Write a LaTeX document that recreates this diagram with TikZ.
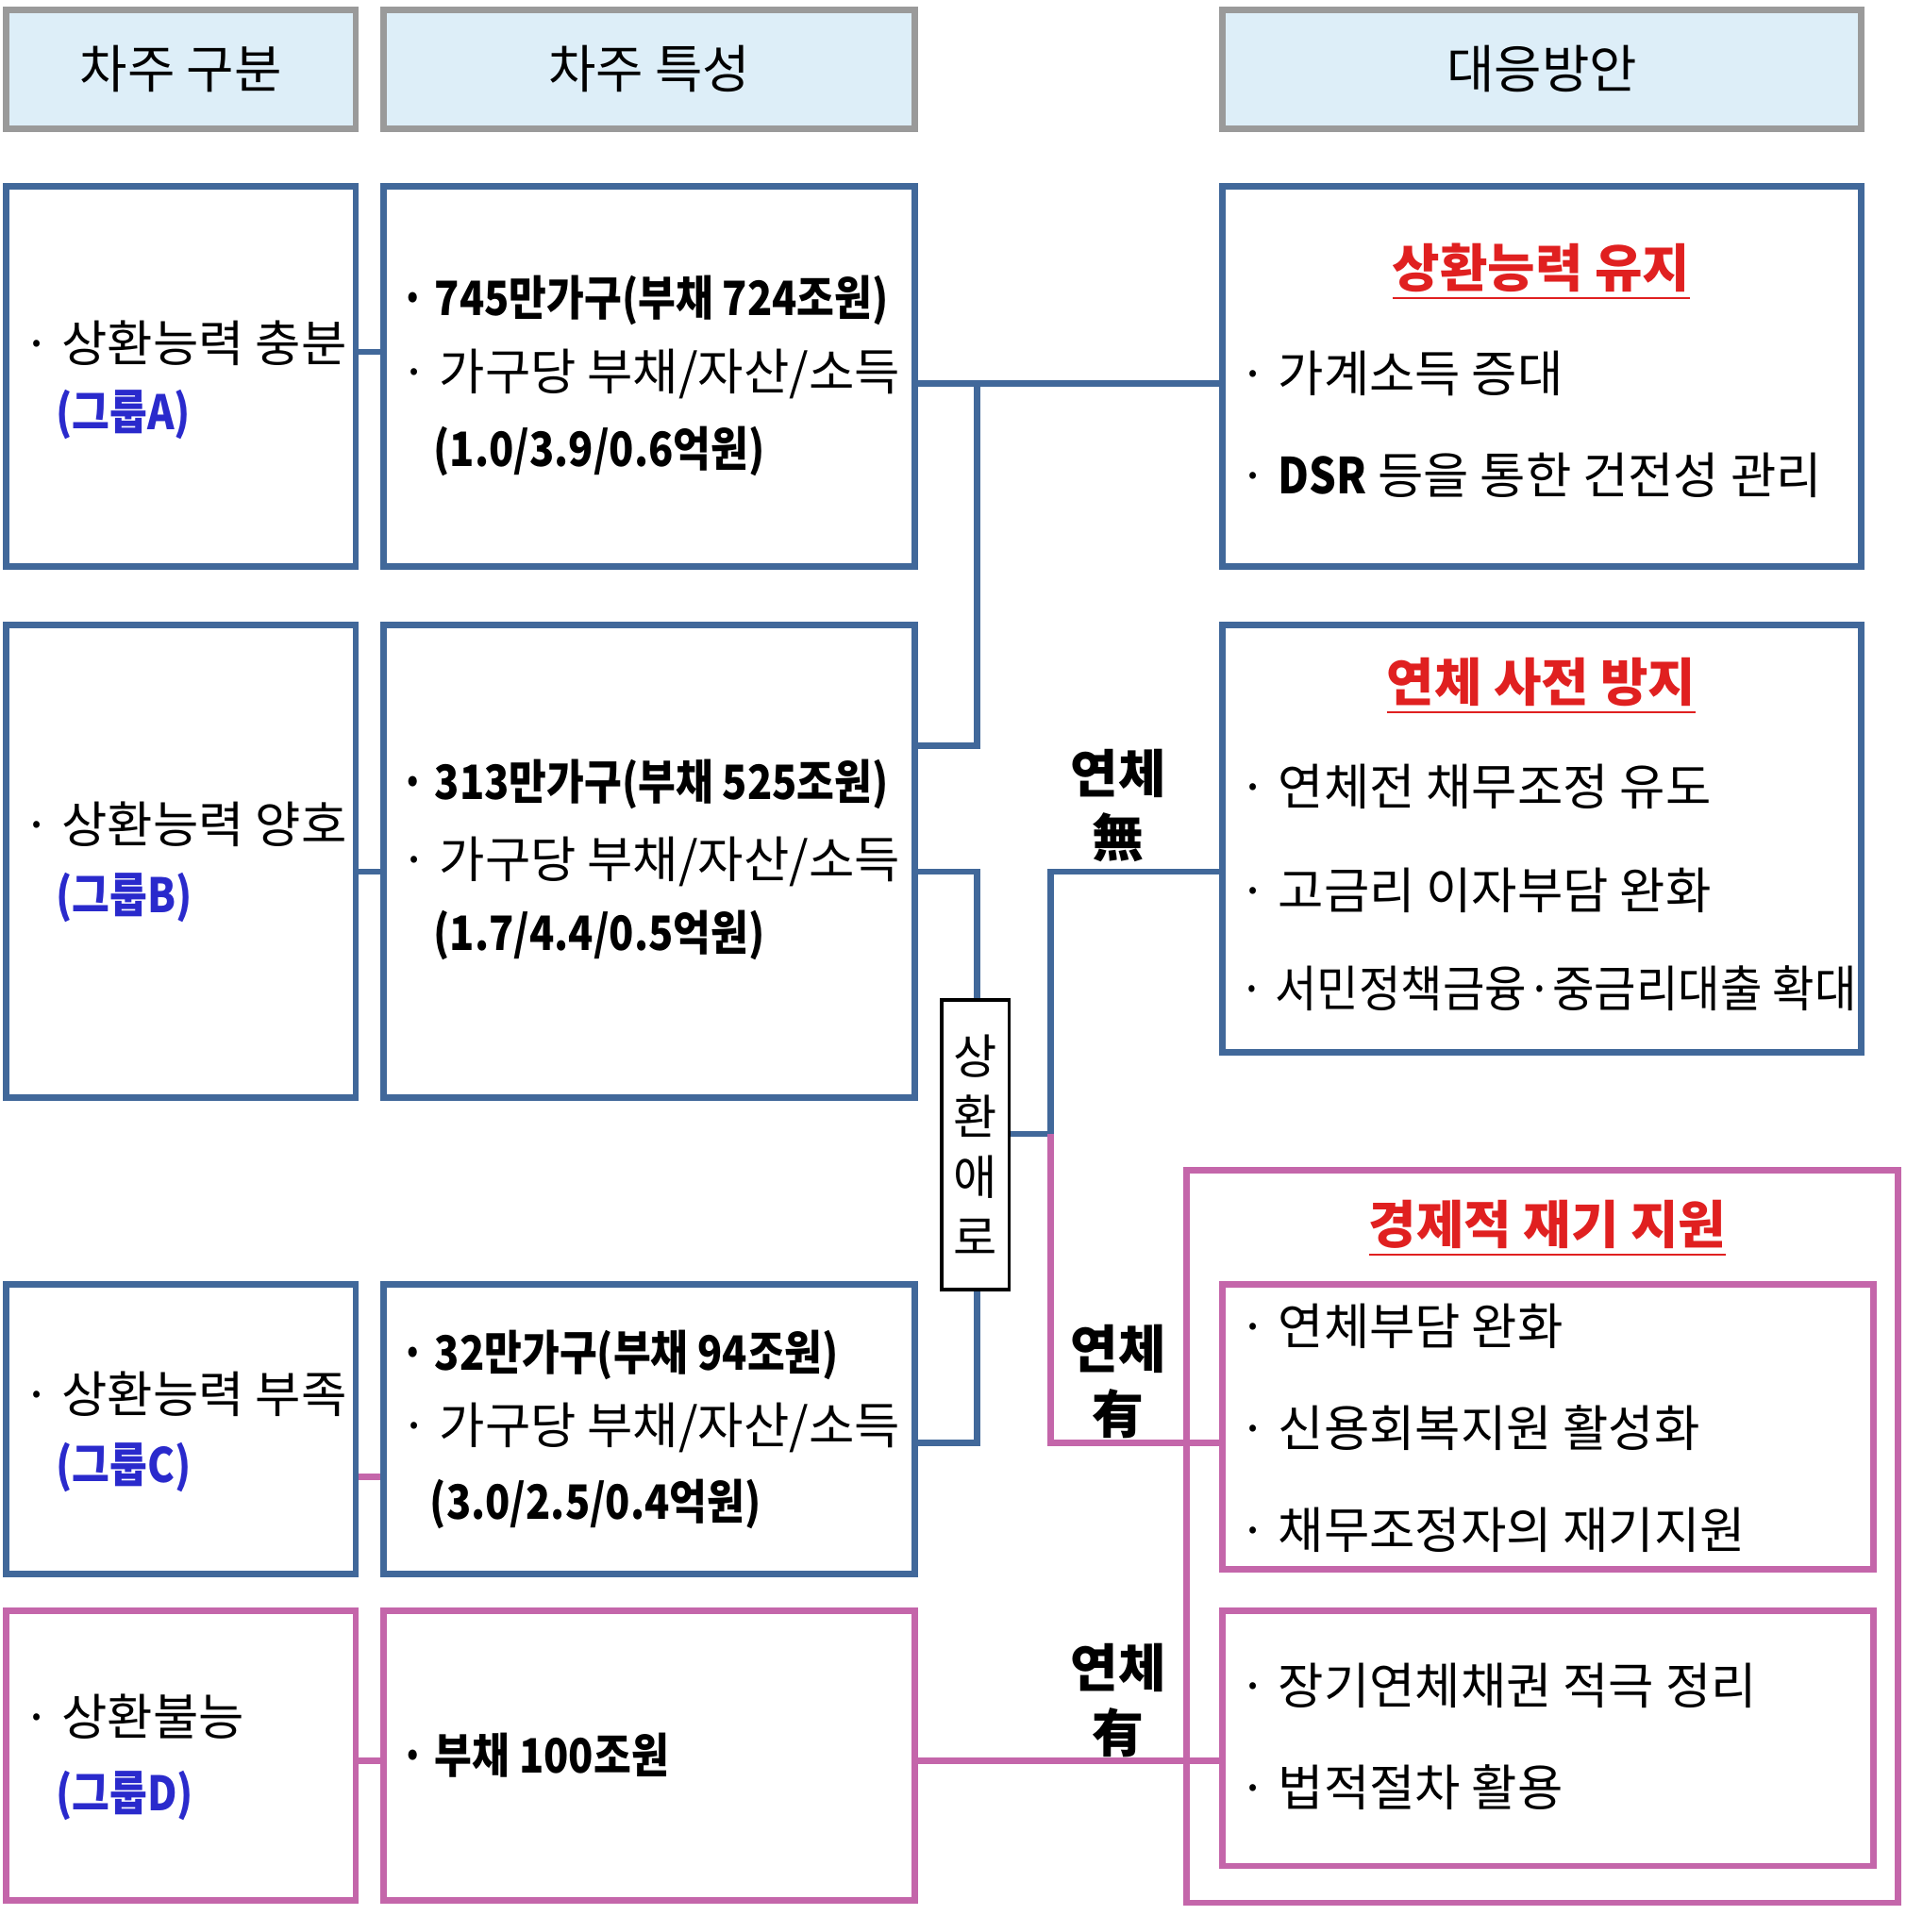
\documentclass[tikz,border=0pt]{standalone}
\usepackage{fontspec}
\setmainfont{Noto Sans CJK KR}
\newfontfamily\condfont[FakeStretch=0.86]{Noto Sans CJK KR}
\newfontfamily\narrowfont[FakeStretch=0.92]{Noto Sans CJK KR}
\usetikzlibrary{calc}
\definecolor{hdrfill}{HTML}{DDEEF8}
\definecolor{hdrline}{HTML}{9A9A9A}
\definecolor{blueline}{HTML}{41689A}
\definecolor{pinkline}{HTML}{C466AA}
\definecolor{grpblue}{HTML}{2A2ACC}
\definecolor{ttlred}{HTML}{E02020}
\tikzset{
  hdr/.style={draw=hdrline,fill=hdrfill,line width=1.5pt,font=\fontsize{12}{14}\selectfont},
  bbox/.style={draw=blueline,line width=1.5pt},
  pbox/.style={draw=pinkline,line width=1.5pt},
  txt/.style={anchor=west,inner sep=0pt,font=\fontsize{11.5}{13}\selectfont},
  btxt/.style={txt,font=\condfont\bfseries\fontsize{11}{13}\selectfont},
  ntxt/.style={txt,font=\narrowfont\fontsize{11.5}{13}\selectfont},
  grp/.style={txt,text=grpblue,font=\condfont\bfseries\fontsize{11}{13}\selectfont},
  ttl/.style={inner sep=0pt,text=ttlred,font=\bfseries\fontsize{12}{14}\selectfont},
  bwire/.style={draw=blueline,line width=1.5pt},
  pwire/.style={draw=pinkline,line width=1.5pt},
  lbl/.style={align=center,inner sep=0pt,font=\bfseries\fontsize{12}{15}\selectfont}
}
\newcommand{\ul}[1]{\underline{#1}}
\begin{document}
\begin{tikzpicture}[x=0.01cm,y=-0.01cm]
\useasboundingbox (0,0) rectangle (1568,1576);
% headers
\node[hdr,minimum width=2.85cm,minimum height=0.97cm] (h1) at (147.5,56.5) {차주 구분};
\node[hdr,minimum width=4.33cm,minimum height=0.97cm] (h2) at (529.5,56.5) {차주 특성};
\node[hdr,minimum width=5.21cm,minimum height=0.97cm] (h3) at (1257.5,56.5) {대응방안};
% boxes
\node[bbox,minimum width=2.85cm,minimum height=3.10cm] (a1) at (147.5,307) {};
\node[bbox,minimum width=4.33cm,minimum height=3.10cm] (a2) at (529.5,307) {};
\node[bbox,minimum width=5.21cm,minimum height=3.10cm] (a3) at (1257.5,307) {};
\node[bbox,minimum width=2.85cm,minimum height=3.85cm] (b1) at (147.5,702.5) {};
\node[bbox,minimum width=4.33cm,minimum height=3.85cm] (b2) at (529.5,702.5) {};
\node[bbox,minimum width=5.21cm,minimum height=3.48cm] (b3) at (1257.5,684) {};
\node[bbox,minimum width=2.85cm,minimum height=2.36cm] (c1) at (147.5,1166) {};
\node[bbox,minimum width=4.33cm,minimum height=2.36cm] (c2) at (529.5,1166) {};
\node[pbox,minimum width=2.85cm,minimum height=2.36cm] (d1) at (147.5,1432) {};
\node[pbox,minimum width=4.33cm,minimum height=2.36cm] (d2) at (529.5,1432) {};
\node[pbox,minimum width=5.80cm,minimum height=5.97cm] (p0) at (1258,1253.5) {};
\node[pbox,minimum width=5.31cm,minimum height=2.32cm] (p1) at (1262.5,1164) {};
\node[pbox,minimum width=5.31cm,minimum height=2.08cm] (p2) at (1262.5,1418) {};
\node[draw,line width=0.8pt,fill=white,minimum width=0.55cm,minimum height=2.36cm,align=center,inner sep=0pt,font=\fontsize{11}{14}\selectfont] (hard) at (795.5,934) {상\\환\\애\\로};
% texts: group column
\node[txt] at (18,280) {· 상환능력 충분};
\node[grp] at (45,338) {(그룹A)};
\node[txt] at (18,672) {· 상환능력 양호};
\node[grp] at (45,732) {(그룹B)};
\node[txt] at (18,1137) {· 상환능력 부족};
\node[grp] at (45,1197) {(그룹C)};
\node[txt] at (18,1400) {· 상환불능};
\node[grp] at (45,1465) {(그룹D)};
% texts: feature column
\node[btxt] at (326,245) {· 745만가구(부채 724조원)};
\node[txt] at (326,305) {· 가구당 부채/자산/소득};
\node[btxt] at (353,368) {(1.0/3.9/0.6억원)};
\node[btxt] at (326,640) {· 313만가구(부채 525조원)};
\node[txt] at (326,703) {· 가구당 부채/자산/소득};
\node[btxt] at (353,763) {(1.7/4.4/0.5억원)};
\node[btxt] at (326,1105) {· 32만가구(부채 94조원)};
\node[txt] at (326,1165) {· 가구당 부채/자산/소득};
\node[btxt] at (350,1227) {(3.0/2.5/0.4억원)};
\node[btxt] at (326,1432) {· 부채 100조원};
% texts: response column
\node[ttl] at (1257,222) {\ul{상환능력 유지}};
\node[txt] at (1010,305) {· 가계소득 증대};
\node[txt] at (1010,388) {· {\condfont\bfseries DSR} 등을 통한 건전성 관리};
\node[ttl] at (1257,560) {\ul{연체 사전 방지}};
\node[txt] at (1010,642) {· 연체전 채무조정 유도};
\node[txt] at (1010,726) {· 고금리 이자부담 완화};
\node[ntxt] at (1010,806) {· 서민정책금융·중금리대출 확대};
\node[ttl] at (1262,1002) {\ul{경제적 재기 지원}};
\node[txt] at (1010,1082) {· 연체부담 완화};
\node[txt] at (1010,1165) {· 신용회복지원 활성화};
\node[txt] at (1010,1248) {· 채무조정자의 재기지원};
\node[txt] at (1010,1375) {· 장기연체채권 적극 정리};
\node[txt] at (1010,1458) {· 법적절차 활용};
% labels
\node[lbl] (lno) at (912,657) {연체\\無};
\node[lbl] (lyes1) at (912,1127) {연체\\有};
\node[lbl] (lyes2) at (912,1387) {연체\\有};
% connectors
\coordinate (ja) at (797,313);
\coordinate (jb) at (797,711);
\coordinate (jc) at (857,925);
\draw[bwire] (a1.east |- 0,287) -- (a2.west |- 0,287);
\draw[bwire] (b1.east |- 0,711) -- (b2.west |- 0,711);
\draw[pwire] (c1.east |- 0,1205) -- (c2.west |- 0,1205);
\draw[pwire] (d1.east |- 0,1436) -- (d2.west |- 0,1436);
\draw[bwire] (a2.east |- ja) -- (a3.west |- ja);
\draw[bwire] (ja) |- (b2.east |- 0,608);
\draw[bwire] (b2.east |- jb) -- (jb) -- (jb |- hard.north);
\draw[bwire] (hard.south -| jb) |- (c2.east |- 0,1177);
\draw[bwire] (hard.east |- jc) -- (jc) |- (b3.west |- 0,711);
\draw[pwire] (jc) |- (p1.west |- 0,1177);
\draw[pwire] (d2.east |- 0,1436) -- (p2.west |- 0,1436);
\end{tikzpicture}
\end{document}
